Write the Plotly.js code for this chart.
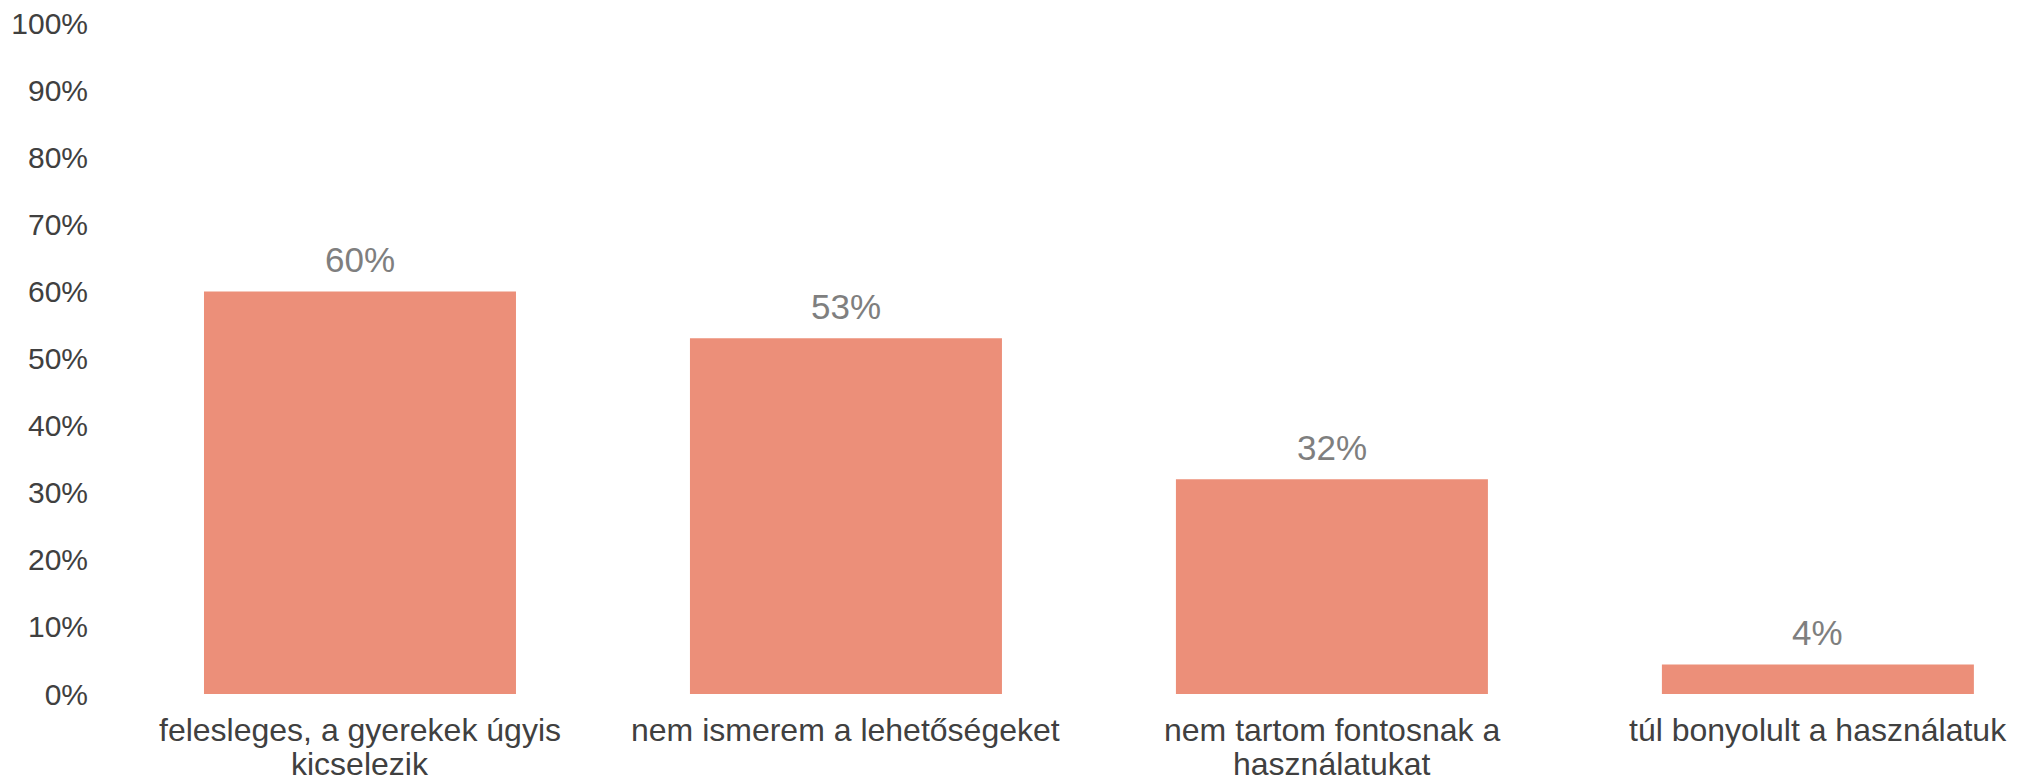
<!DOCTYPE html>
<html>
<head>
<meta charset="utf-8">
<script src="https://cdn.plot.ly/plotly-3.0.1.min.js"></script>
<style>
  html, body { margin: 0; padding: 0; background: #ffffff; }
  #chart { width: 2022px; height: 782px; }
</style>
</head>
<body>
<div id="chart"></div>
<script>
const categories = [
  'felesleges, a gyerekek úgyis kicselezik',
  'nem ismerem a lehetőségeket',
  'nem tartom fontosnak a használatukat',
  'túl bonyolult a használatuk'
];
const categoryLines = [
  ['felesleges, a gyerekek úgyis', 'kicselezik'],
  ['nem ismerem a lehetőségeket'],
  ['nem tartom fontosnak a', 'használatukat'],
  ['túl bonyolult a használatuk']
];
const values = [0.60, 0.53, 0.32, 0.044];
const valueLabels = ['60%', '53%', '32%', '4%'];
const yTickValues = [0, 0.1, 0.2, 0.3, 0.4, 0.5, 0.6, 0.7, 0.8, 0.9, 1.0];
const yTickLabels = ['0%', '10%', '20%', '30%', '40%', '50%', '60%', '70%', '80%', '90%', '100%'];

const FONT = 'Liberation Sans, Arial, sans-serif';

const trace = {
  type: 'bar',
  x: categories,
  y: values,
  marker: { color: '#EC8F79' },
  hoverinfo: 'skip'
};

const annotations = [];
// value labels above bars
categories.forEach((c, i) => {
  annotations.push({
    x: c, y: values[i], xref: 'x', yref: 'y',
    text: valueLabels[i], showarrow: false,
    xanchor: 'center', yanchor: 'middle', yshift: 32,
    font: { family: FONT, size: 35, color: '#7F7F7F' }
  });
});
// category labels (one annotation per line for tight line spacing)
const lineY = [-0.0530, -0.1043];
categories.forEach((c, i) => {
  categoryLines[i].forEach((ln, j) => {
    annotations.push({
      x: c, y: lineY[j], xref: 'x', yref: 'paper',
      text: ln, showarrow: false, borderpad: 0,
      xanchor: 'center', yanchor: 'middle',
      font: { family: FONT, size: 32, color: '#404040' }
    });
  });
});

const layout = {
  width: 2022,
  height: 782,
  margin: { l: 117, r: 0, t: 23, b: 88, pad: 0 },
  paper_bgcolor: '#ffffff',
  plot_bgcolor: '#ffffff',
  showlegend: false,
  bargap: 0.358,
  font: { family: FONT, color: '#404040' },
  annotations: annotations,
  xaxis: {
    type: 'category',
    range: [-0.5, 3.42],
    showgrid: false,
    zeroline: false,
    showline: false,
    ticks: '',
    showticklabels: false,
    automargin: false,
    fixedrange: true
  },
  yaxis: {
    range: [0, 1],
    tickvals: yTickValues,
    ticktext: yTickLabels,
    showgrid: false,
    zeroline: false,
    showline: false,
    ticks: '',
    tickfont: { family: FONT, size: 30, color: '#404040' },
    ticklabelstandoff: 28,
    automargin: false,
    fixedrange: true
  }
};

Plotly.newPlot('chart', [trace], layout, { displayModeBar: false, staticPlot: true });
</script>
</body>
</html>
